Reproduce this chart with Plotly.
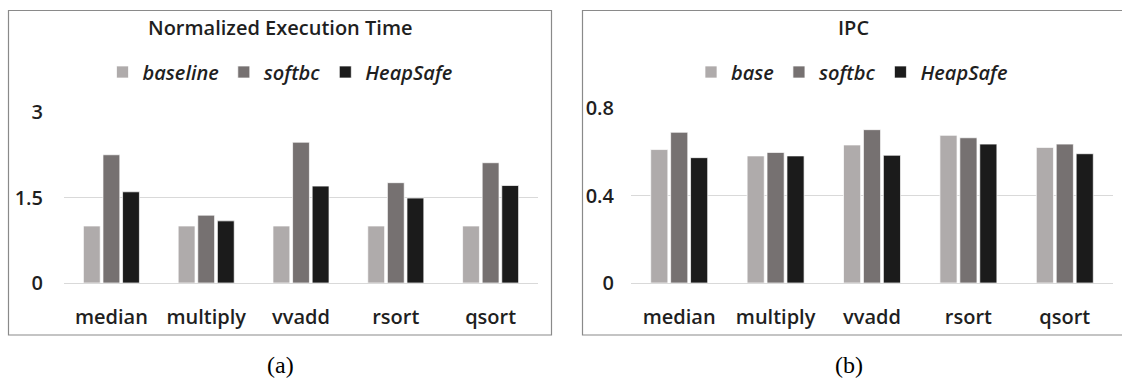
import plotly.graph_objects as go

W, H = 1122, 381

categories = ["median", "multiply", "vvadd", "rsort", "qsort"]

# (a) Normalized Execution Time
exec_series = ["baseline", "softbc", "HeapSafe"]
exec_baseline = [1.0, 1.0, 1.0, 1.0, 1.0]
exec_softbc = [2.25, 1.19, 2.47, 1.76, 2.11]
exec_heapsafe = [1.60, 1.09, 1.70, 1.49, 1.71]
exec_ticks = [0, 1.5, 3]
exec_tick_labels = ["0", "1.5", "3"]

# (b) IPC
ipc_series = ["base", "softbc", "HeapSafe"]
ipc_base = [0.610, 0.581, 0.631, 0.675, 0.620]
ipc_softbc = [0.689, 0.597, 0.701, 0.664, 0.635]
ipc_heapsafe = [0.573, 0.581, 0.584, 0.635, 0.591]
ipc_ticks = [0, 0.4, 0.8]
ipc_tick_labels = ["0", "0.4", "0.8"]

colors = ["#AFABAB", "#767171", "#1B1B1B"]
FONT = "Open Sans"
TXT = "#1f1f1f"


def px(x):
    return x / W


def py(y):
    return 1 - y / H


fig = go.Figure()

for name, vals, c in zip(exec_series, [exec_baseline, exec_softbc, exec_heapsafe], colors):
    fig.add_trace(go.Bar(
        x=categories, y=vals, name=name,
        marker=dict(color=c, line=dict(color="rgba(255,255,255,0.7)", width=1)),
        xaxis="x", yaxis="y", legend="legend", hoverinfo="y+name"))

for name, vals, c in zip(ipc_series, [ipc_base, ipc_softbc, ipc_heapsafe], colors):
    fig.add_trace(go.Bar(
        x=categories, y=vals, name=name,
        marker=dict(color=c, line=dict(color="rgba(255,255,255,0.7)", width=1)),
        xaxis="x2", yaxis="y2", legend="legend2", hoverinfo="y+name"))

xaxis_common = dict(showline=False, ticks="", showgrid=False, fixedrange=True, automargin=False,
                    tickfont=dict(family=FONT, size=20, color=TXT, weight=600), ticklabelstandoff=20)
yaxis_common = dict(showline=False, ticks="", zeroline=True, zerolinecolor="#D9D9D9", zerolinewidth=1,
                    gridcolor="#D9D9D9", gridwidth=1, fixedrange=True, automargin=False,
                    tickfont=dict(family=FONT, size=20, color=TXT, weight=600))

legend_common = dict(orientation="h", xanchor="center", yanchor="middle",
                     font=dict(family=FONT, size=20, color=TXT, style="italic", weight=600),
                     itemwidth=30, bgcolor="rgba(0,0,0,0)", traceorder="normal",
                     itemclick=False, itemdoubleclick=False)

fig.update_layout(
    width=W, height=H, autosize=False,
    margin=dict(l=0, r=0, t=0, b=0, pad=0, autoexpand=False),
    paper_bgcolor="white", plot_bgcolor="white",
    barmode="group", bargap=0.38, bargroupgap=0.14,
    showlegend=True,
    xaxis=dict(domain=[px(64), px(538)], anchor="y", **xaxis_common),
    yaxis=dict(domain=[py(283), py(112)], anchor="x", range=[0, 3], tickvals=exec_ticks,
               ticktext=exec_tick_labels, ticklabelstandoff=20, **yaxis_common),
    xaxis2=dict(domain=[px(631), px(1113)], anchor="y2", **xaxis_common),
    yaxis2=dict(domain=[py(283), py(108)], anchor="x2", range=[0, 0.8], tickvals=ipc_ticks,
                ticktext=ipc_tick_labels, ticklabelstandoff=16, **yaxis_common),
    legend=dict(x=px(280), y=py(72), **legend_common),
    legend2=dict(x=px(852), y=py(72), **legend_common),
    shapes=[
        dict(type="rect", xref="paper", yref="paper", x0=px(8.5), x1=px(551.5), y0=py(335), y1=py(10.5),
             line=dict(color="#8A8A8A", width=1.2), fillcolor="rgba(0,0,0,0)", layer="below"),
        dict(type="rect", xref="paper", yref="paper", x0=px(582.5), x1=px(1125), y0=py(335), y1=py(10.5),
             line=dict(color="#8A8A8A", width=1.2), fillcolor="rgba(0,0,0,0)", layer="below"),
    ],
    annotations=[
        dict(text="Normalized Execution Time", x=px(280), y=py(28), xref="paper", yref="paper",
             showarrow=False, xanchor="center", yanchor="middle",
             font=dict(family=FONT, size=20, color=TXT, weight=600)),
        dict(text="IPC", x=px(853), y=py(28), xref="paper", yref="paper",
             showarrow=False, xanchor="center", yanchor="middle",
             font=dict(family=FONT, size=20, color=TXT, weight=600)),
        dict(text="(a)", x=px(280), y=py(365), xref="paper", yref="paper",
             showarrow=False, xanchor="center", yanchor="middle",
             font=dict(family="Liberation Serif", size=24, color="#000000")),
        dict(text="(b)", x=px(849), y=py(365), xref="paper", yref="paper",
             showarrow=False, xanchor="center", yanchor="middle",
             font=dict(family="Liberation Serif", size=24, color="#000000")),
    ],
)

fig.write_html("out.html", config={"displayModeBar": False},
               post_script="document.body.style.margin='0px';document.body.style.overflow='hidden';")
